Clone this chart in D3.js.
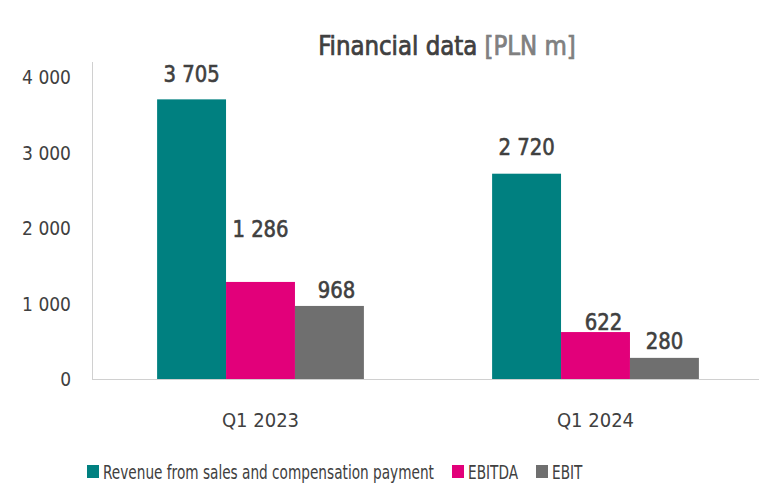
<!DOCTYPE html>
<html><head><meta charset="utf-8">
<script src="https://cdn.jsdelivr.net/npm/d3@7"></script>
<style>
html,body{margin:0;padding:0;background:#fff;}
svg{display:block;}
text{font-family:"DejaVu Sans Condensed","DejaVu Sans",sans-serif;font-stretch:condensed;}
</style></head>
<body><svg id="chart" width="759" height="488"></svg>
<script>
const categories = ["Q1 2023", "Q1 2024"];
const seriesNames = ["Revenue from sales and compensation payment", "EBITDA", "EBIT"];
const revenue = [3705, 2720];
const ebitda = [1286, 622];
const ebit = [968, 280];
const yTicks = [0, 1000, 2000, 3000, 4000];
const colors = ["#008080", "#E2007A", "#6F6F6F"];
// label nudges (layout only): [dx, dy above bar top]
const labelNudge = [[[0,17],[0,45],[7,8]], [[0,19],[8,2],[0,9]]];

const seriesValues = [revenue, ebitda, ebit];
const svg = d3.select("#chart");
const fmt = v => d3.format(",")(v).replace(/,/g, " ");

// place a text at (x,y) squeezed horizontally by factor f (reference font is narrower)
function placeText(parent, x, yy, f) {
  return parent.append("g").attr("transform", `translate(${x},${yy}) scale(${f},1)`).append("text");
}

const x0 = d3.scaleBand().domain(categories).range([93, 763]);
const x1 = d3.scaleBand().domain(d3.range(seriesNames.length)).range([0, x0.bandwidth()])
  .paddingInner(0).paddingOuter(0.93);
const y = d3.scaleLinear().domain([0, 4200]).range([379, 62]);

// axes lines
svg.append("line").attr("x1", 92.5).attr("x2", 92.5).attr("y1", y(4200)).attr("y2", y(0)).attr("stroke", "#d0d0d0").attr("stroke-width", 1);
svg.append("line").attr("x1", 92).attr("x2", 759).attr("y1", y(0)+0.5).attr("y2", y(0)+0.5).attr("stroke", "#d0d0d0").attr("stroke-width", 1);

// y tick labels
const yAxis = d3.axisLeft(y).tickValues(yTicks).tickSize(0).tickPadding(0).tickFormat(fmt);
const gy = svg.append("g").attr("transform", "translate(71,0)").call(yAxis);
gy.select(".domain").remove();
gy.selectAll("text").attr("font-size", 19).attr("fill", "#404040").attr("font-family", null).attr("dy", "0.35em");

// x category labels
const xAxis = d3.axisBottom(x0).tickSize(0).tickPadding(0);
const gx = svg.append("g").attr("transform", "translate(0,427)").call(xAxis);
gx.select(".domain").remove();
gx.selectAll("text").attr("font-size", 20).attr("fill", "#404040").attr("font-family", null).attr("dy", 0);

// bars
const groups = svg.selectAll("g.cat").data(categories).enter().append("g").attr("class", "cat")
  .attr("transform", d => `translate(${x0(d)},0)`);
groups.each(function(cat, ci) {
  const g = d3.select(this);
  seriesValues.forEach((vals, si) => {
    const v = vals[ci];
    g.append("rect").attr("x", x1(si)).attr("width", x1.bandwidth())
      .attr("y", y(v)).attr("height", y(0) - y(v)).attr("fill", colors[si]);
    const n = labelNudge[ci][si];
    placeText(g, x1(si) + x1.bandwidth()/2 + n[0], y(v) - n[1], 0.95)
      .attr("text-anchor", "middle").attr("font-size", 23)
      .attr("fill", "#404040").attr("stroke", "#404040").attr("stroke-width", 0.6)
      .text(fmt(v));
  });
});

// title
const title = placeText(svg, 447, 55, 0.98).attr("text-anchor", "middle")
  .attr("font-size", 26).attr("fill", "#404040").attr("stroke-width", 0.75);
title.append("tspan").attr("stroke", "#404040").text("Financial data ");
title.append("tspan").attr("fill", "#808080").attr("stroke", "#808080").text("[PLN m]");

// legend
const legendX = [87, 452, 536];
const lg = svg.append("g");
seriesNames.forEach((name, i) => {
  lg.append("rect").attr("x", legendX[i]).attr("y", 465).attr("width", 12).attr("height", 13).attr("fill", colors[i]);
  placeText(lg, legendX[i] + 16, 479, 0.76).attr("font-size", 20).attr("fill", "#404040").text(name);
});
</script></body></html>
